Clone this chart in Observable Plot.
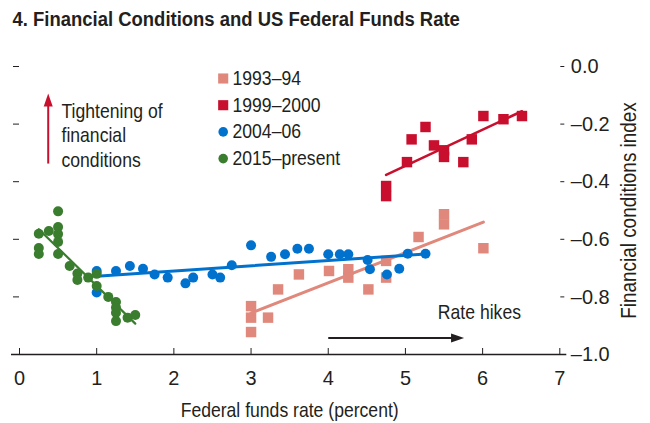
<!DOCTYPE html>
<html>
<head>
<meta charset="utf-8">
<script src="https://cdn.jsdelivr.net/npm/d3@7"></script>
<script src="https://cdn.jsdelivr.net/npm/@observablehq/plot@0.6"></script>
<style>
  html, body { margin: 0; padding: 0; background: #fff; }
  #chart svg { display: block; }
</style>
</head>
<body>
<div id="chart"></div>
<script>
// ---- Data ----
const title = "4. Financial Conditions and US Federal Funds Rate";
const xLabel = "Federal funds rate (percent)";
const yLabel = "Financial conditions index";
const seriesNames = ["1993–94", "1999–2000", "2004–06", "2015–present"];

const rate9394 = [3.00, 3.00, 3.00, 3.22, 3.35, 3.62, 4.01, 4.26, 4.26, 4.52, 4.75, 4.75, 5.17, 5.50, 5.50, 6.01];
const fci9394  = [-0.832, -0.872, -0.922, -0.872, -0.774, -0.722, -0.710, -0.704, -0.733, -0.774, -0.675, -0.733, -0.592, -0.513, -0.548, -0.631];

const rate9900 = [4.75, 4.75, 5.02, 5.08, 5.26, 5.37, 5.50, 5.50, 5.75, 5.86, 6.01, 6.27, 6.51];
const fci9900  = [-0.415, -0.450, -0.332, -0.253, -0.210, -0.274, -0.291, -0.314, -0.332, -0.253, -0.172, -0.183, -0.172];

const rate0406 = [1.00, 1.00, 1.25, 1.43, 1.60, 1.75, 1.92, 2.15, 2.25, 2.50, 2.60, 2.75, 3.00, 3.26, 3.44, 3.60, 3.75, 4.00, 4.15, 4.26, 4.51, 4.54, 4.76, 4.92, 5.03, 5.26];
const fci0406  = [-0.710, -0.785, -0.710, -0.693, -0.702, -0.722, -0.733, -0.753, -0.733, -0.722, -0.733, -0.690, -0.621, -0.661, -0.652, -0.633, -0.633, -0.652, -0.652, -0.652, -0.672, -0.704, -0.722, -0.702, -0.650, -0.650];

const rate15 = [0.50, 0.50, 0.38, 0.25, 0.50, 0.50, 0.25, 0.25, 0.50, 0.65, 0.75, 0.75, 0.89, 1.00, 1.00, 1.15, 1.25, 1.25, 1.25, 1.25, 1.40, 1.50];
const fci15  = [-0.503, -0.557, -0.571, -0.581, -0.582, -0.609, -0.630, -0.651, -0.651, -0.693, -0.719, -0.741, -0.733, -0.720, -0.762, -0.800, -0.818, -0.837, -0.855, -0.884, -0.872, -0.863];

const xTicks = [0, 1, 2, 3, 4, 5, 6, 7];
const yTicks = [0, -0.2, -0.4, -0.6, -0.8, -1.0];
const yTickLabels = ["0.0", "–0.2", "–0.4", "–0.6", "–0.8", "–1.0"];

const annotTightening = "Tightening of\nfinancial\nconditions";
const annotHikes = "Rate hikes";

// ---- Styles ----
const colors = ["#E0887C", "#C8102E", "#0072CE", "#3A7D2E"];
const symbols = ["square", "square", "circle", "circle"];
const radii = [5.9, 5.9, 5, 5];
const lineWidths = [3, 2.6, 3, 2.2];
const ink = "#231F20";
const font = "'Liberation Sans', Arial, sans-serif";

// narrow filled arrowheads (tip at the anchor point)
const headRight = {draw(ctx) { ctx.moveTo(0, 0); ctx.lineTo(-13, -4.5); ctx.lineTo(-13, 4.5); ctx.closePath(); }};
const headUp = {draw(ctx) { ctx.moveTo(0, 0); ctx.lineTo(-4.5, 13); ctx.lineTo(4.5, 13); ctx.closePath(); }};

const rates = [rate9394, rate9900, rate0406, rate15];
const fcis = [fci9394, fci9900, fci0406, fci15];
const tables = rates.map((r, s) => r.map((x, i) => ({x, y: fcis[s][i], series: seriesNames[s]})));

const marks = [];
// x axis line
marks.push(Plot.ruleY([-1], {stroke: ink, strokeWidth: 1.6, insetLeft: -8, insetRight: -7}));
// axes
marks.push(Plot.axisX({ticks: xTicks, tickSize: -6, tickPadding: 22, tickFormat: d => String(d), label: null, stroke: ink, fill: ink, fontSize: 21}));
marks.push(Plot.axisY({anchor: "right", ticks: yTicks, tickSize: 4, tickPadding: 7, tickFormat: (d, i) => yTickLabels[i], label: null, stroke: ink, fill: ink, fontSize: 21}));
marks.push(Plot.axisY({anchor: "left", ticks: yTicks, tickSize: 6, tickFormat: () => "", label: null, stroke: ink}));

// series: points + fitted lines
tables.forEach((t, s) => {
  marks.push(Plot.dot(t, {x: "x", y: "y", symbol: symbols[s], fill: colors[s], r: radii[s]}));
  marks.push(Plot.linearRegressionY(t, {x: "x", y: "y", stroke: colors[s], strokeWidth: lineWidths[s], ci: 0}));
});

// legend
seriesNames.forEach((name, i) => {
  marks.push(Plot.dot([name], {frameAnchor: "top-left", dx: 203.7, dy: 12 + i * 26.7, symbol: symbols[i], fill: colors[i], r: radii[i] - 0.2}));
  marks.push(Plot.text([name], {frameAnchor: "top-left", dx: 213, dy: 12 + i * 26.7, text: d => d, textAnchor: "start", lineAnchor: "middle", fill: ink, fontSize: 20}));
});

// annotations
marks.push(Plot.link([0], {x1: 0.372, y1: -0.337, x2: 0.372, y2: -0.13, stroke: "#C8102E", strokeWidth: 2}));
marks.push(Plot.dot([0], {x: 0.372, y: -0.094, symbol: headUp, fill: "#C8102E"}));
marks.push(Plot.text([annotTightening], {frameAnchor: "top-left", dx: 42, dy: 33.8, text: d => d, textAnchor: "start", lineAnchor: "top", lineHeight: 1.225, fill: ink, fontSize: 20}));
marks.push(Plot.link([0], {x1: 4.0, y1: -0.943, x2: 5.62, y2: -0.943, stroke: ink, strokeWidth: 2}));
marks.push(Plot.dot([0], {x: 5.76, y: -0.943, symbol: headRight, fill: ink}));
marks.push(Plot.text([annotHikes], {x: 5.42, y: -0.854, text: d => d, textAnchor: "start", lineAnchor: "middle", fill: ink, fontSize: 20}));

// axis titles and chart title
marks.push(Plot.text([yLabel], {frameAnchor: "right", dx: 69, rotate: -90, text: d => d, textAnchor: "middle", lineAnchor: "middle", fill: ink, fontSize: 21.5}));
marks.push(Plot.text([xLabel], {frameAnchor: "bottom", dy: 56, text: d => d, textAnchor: "middle", lineAnchor: "middle", fill: ink, fontSize: 20}));
marks.push(Plot.text([title], {frameAnchor: "top-left", dx: -7, dy: -47.7, text: d => d, textAnchor: "start", lineAnchor: "middle", fill: ink, fontSize: 21, fontWeight: "bold", ariaLabel: "chart-title"}));

const chart = Plot.plot({
  width: 650,
  height: 423,
  marginLeft: 19,
  marginRight: 90.7,
  marginTop: 66,
  marginBottom: 69,
  x: {domain: [0, 7]},
  y: {domain: [-1, 0]},
  style: {fontFamily: font, fontSize: "20px", color: ink, background: "#fff", overflow: "visible"},
  marks
});

// condense the text horizontally to mimic the narrow typeface of the original
d3.select(chart).selectAll("text").each(function () {
  const g = this.closest("g[aria-label]");
  const label = g ? g.getAttribute("aria-label") : "";
  const k = label === "chart-title" ? 0.83 : /tick label/.test(label) ? 0.95 : 0.88;
  const t = this.getAttribute("transform") || "";
  this.setAttribute("transform", `${t} scale(${k},1)`);
});

document.getElementById("chart").appendChild(chart);
</script>
</body>
</html>
